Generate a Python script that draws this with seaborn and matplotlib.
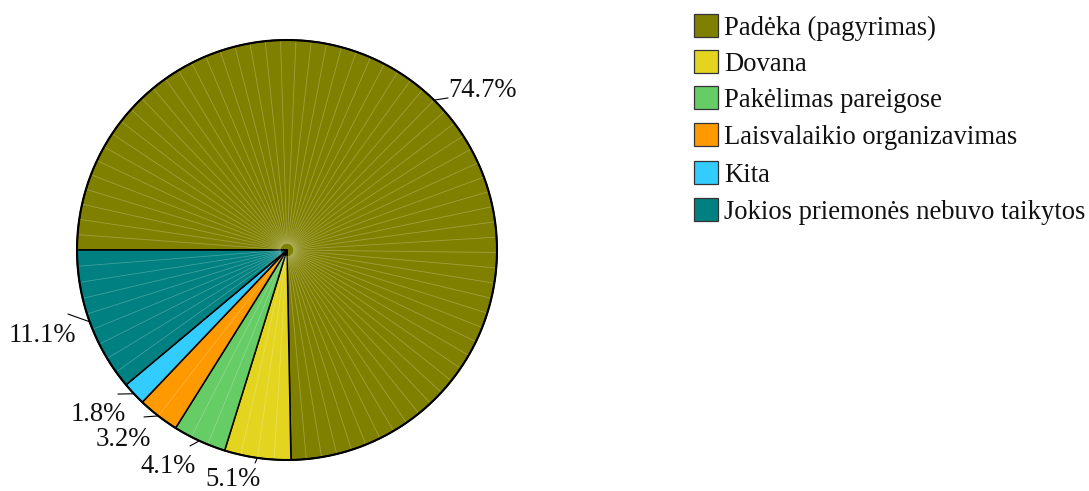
import numpy as np
import matplotlib
matplotlib.use("Agg")
import matplotlib.pyplot as plt
from matplotlib.patches import Rectangle
from matplotlib.collections import LineCollection
import seaborn as sns

# Survey answers and their shares (%)
categories = [
    "Padėka (pagyrimas)",
    "Dovana",
    "Pakėlimas pareigose",
    "Laisvalaikio organizavimas",
    "Kita",
    "Jokios priemonės nebuvo taikytos",
]
shares = [74.7, 5.1, 4.1, 3.2, 1.8, 11.1]
pct_labels = ["74.7%", "5.1%", "4.1%", "3.2%", "1.8%", "11.1%"]
colors = ["#808000", "#e3d41f", "#66cc66", "#ff9900", "#33ccff", "#008080"]

sns.set_theme(style="white")
plt.rcParams["font.family"] = ["Liberation Serif", "DejaVu Serif"]

W, H, DPI = 1089, 491, 100
FS = 19.2
fig = plt.figure(figsize=(W / DPI, H / DPI), dpi=DPI)
ax = fig.add_axes([0, 0, 1, 1])

# pixel geometry of the pie: centre and radius
cx, cy, R = 287, 250, 210

wedges, _ = ax.pie(
    shares,
    colors=colors,
    startangle=180,
    counterclock=False,
    radius=1.0,
    center=(0, 0),
    wedgeprops=dict(edgecolor="black", linewidth=1.1),
    frame=True,
)
ax.set_xlim(-cx / R, (W - cx) / R)
ax.set_ylim(-(H - cy) / R, cy / R)
ax.set_aspect("auto")
ax.axis("off")

# faint fan lines inside each wedge
segs = []
for w in wedges:
    t1, t2 = sorted((w.theta1, w.theta2))
    n = max(int((t2 - t1) / 4.2), 1)
    for a in np.linspace(t1, t2, n + 1)[1:-1]:
        r = np.deg2rad(a)
        segs.append([(0.03 * np.cos(r), 0.03 * np.sin(r)), (0.995 * np.cos(r), 0.995 * np.sin(r))])
ax.add_collection(LineCollection(segs, colors="white", linewidths=0.6, alpha=0.25, zorder=1.5))

# outer rim drawn a touch heavier
th = np.linspace(0, 2 * np.pi, 400)
ax.plot(np.cos(th), np.sin(th), color="black", lw=1.5, zorder=3)

# percentage labels with leader lines
leader_ends = [(0.767, 0.724), (-0.152, -1.014), (-0.462, -0.933),
               (-0.681, -0.795), (-0.805, -0.686), (-1.043, -0.305)]
text_pos = [(0.931, 0.729), (-0.255, -1.124), (-0.564, -1.062),
            (-0.779, -0.933), (-0.900, -0.814), (-1.164, -0.438)]
for w, lab, le, tp in zip(wedges, pct_labels, leader_ends, text_pos):
    mid = np.deg2rad((w.theta1 + w.theta2) / 2)
    x0, y0 = np.cos(mid), np.sin(mid)
    ax.plot([x0, le[0]], [y0, le[1]], color="black", lw=0.8, zorder=3)
    ax.text(tp[0], tp[1], lab, ha="center", va="baseline", fontsize=FS, color="#111111")

# legend: coloured squares with labels
box_x, box_w, box_h = 694, 24, 23
row_y = [14, 50, 86, 123, 161, 198]
for col, lab, y in zip(colors, categories, row_y):
    fig.patches.append(Rectangle((box_x / W, 1 - (y + box_h) / H), box_w / W, box_h / H,
                                 transform=fig.transFigure, facecolor=col,
                                 edgecolor="#333333", linewidth=0.9))
    fig.text(724 / W, 1 - (y + box_h - 2) / H, lab, ha="left", va="baseline",
             fontsize=FS, color="#111111")

fig.savefig("out.png", dpi=DPI, facecolor="white")
